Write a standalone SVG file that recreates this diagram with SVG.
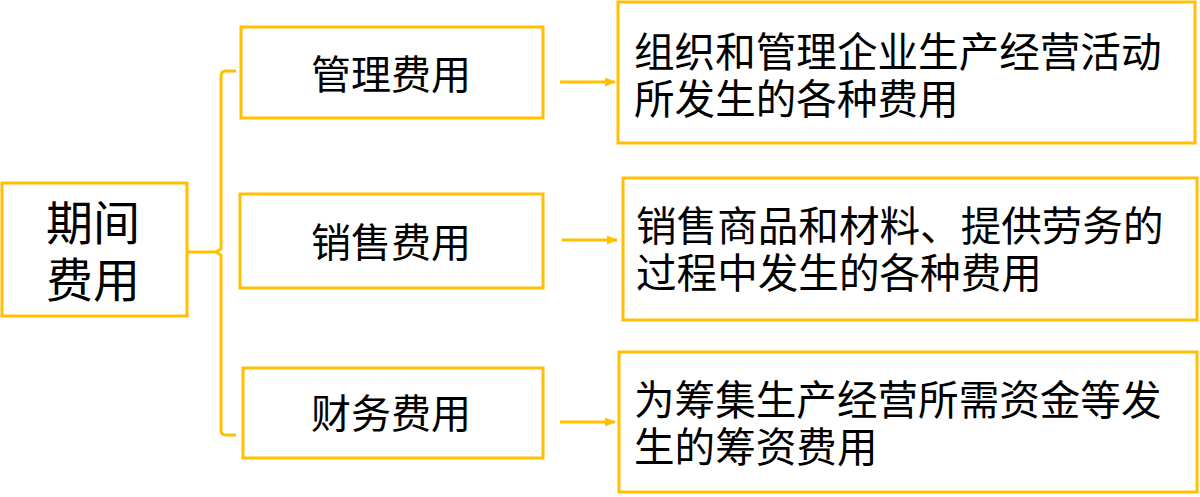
<svg xmlns="http://www.w3.org/2000/svg" width="1200" height="497" viewBox="0 0 1200 497">
<style>
.box{fill:#fff;stroke:#FFC000;stroke-width:3}
.line{fill:none;stroke:#FFC000;stroke-width:3}
text{font-family:"Noto Sans CJK SC","Microsoft YaHei",sans-serif;fill:#000}
.big{font-size:47px}
.mid{font-size:40px}
.desc{font-size:40.6px}
</style>
<defs>
<marker id="ah" markerWidth="11" markerHeight="9" refX="10" refY="4.5" orient="auto" markerUnits="userSpaceOnUse">
<path d="M0,0 L11,4.5 L0,9 z" fill="#FFC000"/>
</marker>
</defs>
<g id="connectors">
<path class="line" d="M187,252 H216 L221,249 V76 Q221,71 226,71 H236"/>
<path class="line" d="M216,252 L221,255 V430 Q221,435 226,435 H236"/>
<line class="line" x1="560" y1="82" x2="615" y2="82" marker-end="url(#ah)"/>
<line class="line" x1="562" y1="240" x2="617" y2="240" marker-end="url(#ah)"/>
<line class="line" x1="560" y1="422" x2="615" y2="422" marker-end="url(#ah)"/>
</g>
<g id="n-qijian">
<rect class="box" x="2" y="183" width="185" height="133"/>
<text class="big" x="93" y="240" text-anchor="middle">期间</text>
<text class="big" x="93" y="297" text-anchor="middle">费用</text>
</g>
<g id="n-guanli">
<rect class="box" x="241" y="27" width="302" height="91"/>
<text class="mid" x="391" y="89" text-anchor="middle">管理费用</text>
</g>
<g id="n-xiaoshou">
<rect class="box" x="240" y="194" width="303" height="94"/>
<text class="mid" x="391" y="257" text-anchor="middle">销售费用</text>
</g>
<g id="n-caiwu">
<rect class="box" x="243" y="368" width="300" height="90"/>
<text class="mid" x="391" y="428" text-anchor="middle">财务费用</text>
</g>
<g id="d-guanli">
<rect class="box" x="618" y="2" width="577" height="141"/>
<text class="desc" x="634" y="67">组织和管理企业生产经营活动</text>
<text class="desc" x="634" y="114">所发生的各种费用</text>
</g>
<g id="d-xiaoshou">
<rect class="box" x="623" y="178" width="574" height="142"/>
<text class="desc" x="636" y="241">销售商品和材料、提供劳务的</text>
<text class="desc" x="636" y="288">过程中发生的各种费用</text>
</g>
<g id="d-caiwu">
<rect class="box" x="619" y="352" width="578" height="140"/>
<text class="desc" x="634" y="415">为筹集生产经营所需资金等发</text>
<text class="desc" x="634" y="462">生的筹资费用</text>
</g>
</svg>
